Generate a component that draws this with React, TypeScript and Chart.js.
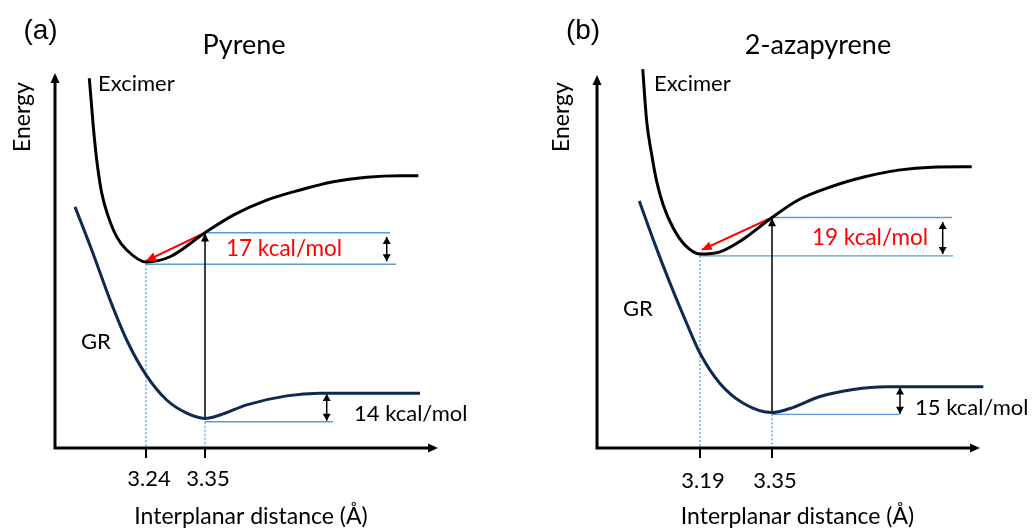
import React, { useEffect, useRef } from "react";
import { Chart, registerables } from "chart.js";

Chart.register(...registerables);

const FONT = "Lato, 'Open Sans', sans-serif";
const TAG_FONT = "'Liberation Sans', Arial, sans-serif";
const NAVY = "#0e2a4e";
const BLUE = "#5b9bd5";
const RED = "#ff0000";

// ---------------- Panel (a): Pyrene ----------------
// x: interplanar distance (Å), y: energy (arbitrary units, 0..100 on the axis)
const pyreneExcimerX = [3.1343, 3.1417, 3.1481, 3.1574, 3.1697, 3.1854, 3.204, 3.24, 3.2847, 3.35, 3.4028, 3.465, 3.5271, 3.5892, 3.6515, 3.7136, 3.7477];
const pyreneExcimerY = [98.6, 85.7, 76.8, 68.0, 61.7, 56.3, 52.8, 49.6, 51.0, 57.4, 62.1, 66.1, 68.8, 71.0, 72.2, 72.6, 72.6];
const pyreneGroundX = [3.1076, 3.1388, 3.1729, 3.204, 3.24, 3.2786, 3.3159, 3.35, 3.378, 3.4277, 3.5023, 3.5644, 3.7508];
const pyreneGroundY = [64.3, 52.8, 39.5, 28.8, 19.5, 12.8, 9.3, 7.9, 8.8, 11.5, 13.9, 14.6, 14.6];
const pyreneTicks = [3.24, 3.35];
const pyreneTickLabels = ["3.24", "3.35"];
// segments: [x1, y1, x2, y2] in data units
const pyreneLevelLines = [[3.35, 57.4, 3.6949, 57.4], [3.24, 49.0, 3.7061, 49.0], [3.35, 7.0, 3.5886, 7.0]];
const pyreneDropLines = [[3.24, 49.0, 3.24, 0], [3.35, 7.0, 3.35, 0]];
const pyreneExcitation = [3.35, 7.9, 3.35, 57.2];
const pyreneGaps = [[3.6888, 56.3, 3.6888, 49.8], [3.5769, 14.4, 3.5769, 7.3]];
const pyreneRelax = [3.35, 57.4, 3.24, 49.9];
const pyreneRange = [3.0703, 3.7844];

// ---------------- Panel (b): 2-azapyrene ----------------
const azaExcimerX = [3.0627, 3.0716, 3.0827, 3.0938, 3.1084, 3.1307, 3.1567, 3.19, 3.2344, 3.2862, 3.35, 3.4084, 3.4827, 3.5567, 3.6307, 3.7049, 3.7938];
const azaExcimerY = [101.6, 87.5, 78.6, 71.4, 65.1, 58.9, 54.4, 52.0, 52.6, 56.0, 61.8, 66.5, 70.1, 72.7, 74.5, 75.3, 75.4];
const azaGroundX = [3.0551, 3.0862, 3.1233, 3.1604, 3.19, 3.2344, 3.2862, 3.35, 3.39, 3.4567, 3.5307, 3.6049, 3.8196];
const azaGroundY = [66.2, 55.8, 44.2, 33.4, 25.4, 17.3, 12.0, 9.5, 10.6, 13.8, 15.7, 16.4, 16.4];
const azaTicks = [3.19, 3.35];
const azaTickLabels = ["3.19", "3.35"];
const azaLevelLines = [[3.35, 61.8, 3.75, 61.8], [3.19, 51.5, 3.7522, 51.5], [3.35, 9.0, 3.6344, 9.0]];
const azaDropLines = [[3.19, 51.5, 3.19, 0], [3.35, 9.0, 3.35, 0]];
const azaExcitation = [3.35, 9.5, 3.35, 61.6];
const azaGaps = [[3.7293, 60.6, 3.7293, 52.0], [3.6344, 16.2, 3.6344, 9.2]];
const azaRelax = [3.35, 61.8, 3.1938, 53.1];
const azaRange = [2.9611, 3.8122];

type TextSpec = { t: string; x: number; y: number; size: number; align: CanvasTextAlign; color?: string; rotate?: boolean; font?: string };

const pyreneTexts: TextSpec[] = [
  { t: "(a)", x: 40.5, y: 31, size: 28, align: "center", font: TAG_FONT },
  { t: "Pyrene", x: 244, y: 45, size: 27, align: "center" },
  { t: "Excimer", x: 98, y: 84, size: 22, align: "left" },
  { t: "GR", x: 81, y: 342, size: 22, align: "left" },
  { t: "17 kcal/mol", x: 226, y: 249, size: 22.5, align: "left", color: RED },
  { t: "14 kcal/mol", x: 354, y: 414, size: 22, align: "left" },
  { t: "Interplanar distance (Å)", x: 251, y: 517, size: 23, align: "center" },
  { t: "Energy", x: 23, y: 117, size: 23, align: "center", rotate: true },
];
const azaTexts: TextSpec[] = [
  { t: "(b)", x: 67, y: 31, size: 28, align: "center", font: TAG_FONT },
  { t: "2-azapyrene", x: 302, y: 45, size: 27, align: "center" },
  { t: "Excimer", x: 138, y: 84, size: 22, align: "left" },
  { t: "GR", x: 107, y: 309, size: 22, align: "left" },
  { t: "19 kcal/mol", x: 296, y: 238, size: 22.5, align: "left", color: RED },
  { t: "15 kcal/mol", x: 399, y: 408, size: 22, align: "left" },
  { t: "Interplanar distance (Å)", x: 281.5, y: 517, size: 23, align: "center" },
  { t: "Energy", x: 46, y: 117, size: 23, align: "center", rotate: true },
];

function drawHead(ctx: CanvasRenderingContext2D, x0: number, y0: number, x1: number, y1: number, len: number, half: number, color: string) {
  const ang = Math.atan2(y1 - y0, x1 - x0);
  const c = Math.cos(ang), s = Math.sin(ang);
  ctx.fillStyle = color;
  ctx.beginPath();
  ctx.moveTo(x1, y1);
  ctx.lineTo(x1 - len * c + half * s, y1 - len * s - half * c);
  ctx.lineTo(x1 - len * c - half * s, y1 - len * s + half * c);
  ctx.closePath();
  ctx.fill();
}

const diagramPlugin = {
  id: "diagram",
  afterDatasetsDraw(chart: any, _args: any, opts: any) {
    const { ctx, chartArea: a, scales } = chart;
    const xs = scales.x;
    ctx.save();
    // arrowheads on flagged datasets
    chart.data.datasets.forEach((ds: any, i: number) => {
      if (!ds.arrow) return;
      const pts = chart.getDatasetMeta(i).data;
      const p0 = pts[0], p1 = pts[pts.length - 1];
      const len = ds.headLen || 8, half = ds.headHalf || 4;
      drawHead(ctx, p0.x, p0.y, p1.x, p1.y, len, half, ds.borderColor);
      if (ds.arrow === "both") drawHead(ctx, p1.x, p1.y, p0.x, p0.y, len, half, ds.borderColor);
    });
    // axes
    ctx.strokeStyle = "#000";
    ctx.lineWidth = 3;
    ctx.lineCap = "butt";
    ctx.beginPath();
    ctx.moveTo(a.left, a.bottom + 1.5);
    ctx.lineTo(a.left, a.top + 6);
    ctx.moveTo(a.left - 1.5, a.bottom);
    ctx.lineTo(a.right - 6, a.bottom);
    ctx.stroke();
    drawHead(ctx, a.left, a.bottom, a.left, a.top, 10, 4.5, "#000");
    drawHead(ctx, a.left, a.bottom, a.right, a.bottom, 10, 4.5, "#000");
    // ticks
    ctx.lineWidth = 2;
    ctx.beginPath();
    opts.ticks.forEach((v: number) => {
      const px = Math.round(xs.getPixelForValue(v));
      ctx.moveTo(px, a.bottom);
      ctx.lineTo(px, a.bottom + 10);
    });
    ctx.stroke();
    ctx.fillStyle = "#000";
    ctx.textBaseline = "middle";
    ctx.textAlign = "center";
    ctx.font = `22px ${FONT}`;
    opts.ticks.forEach((v: number, i: number) => {
      ctx.fillText(opts.tickLabels[i], xs.getPixelForValue(v) + 3, opts.tickY);
    });
    // texts
    opts.texts.forEach((tx: TextSpec) => {
      ctx.save();
      ctx.font = `${tx.size}px ${tx.font || FONT}`;
      ctx.fillStyle = tx.color || "#000";
      ctx.textAlign = tx.align;
      ctx.textBaseline = "middle";
      ctx.translate(tx.x, tx.y);
      if (tx.rotate) ctx.rotate(-Math.PI / 2);
      ctx.fillText(tx.t, 0, 0);
      ctx.restore();
    });
    ctx.restore();
  },
};

const pts = (xs: number[], ys: number[]) => xs.map((x, i) => ({ x, y: ys[i] }));
const seg = (s: number[]) => [{ x: s[0], y: s[1] }, { x: s[2], y: s[3] }];

function buildConfig(p: any): any {
  const base = { pointRadius: 0, clip: false, fill: false, tension: 0 };
  return {
    type: "line",
    data: {
      datasets: [
        { ...base, data: pts(p.excX, p.excY), borderColor: "#000", borderWidth: 3, cubicInterpolationMode: "monotone" },
        { ...base, data: pts(p.grX, p.grY), borderColor: NAVY, borderWidth: 3, cubicInterpolationMode: "monotone" },
        { ...base, data: seg(p.relax), borderColor: RED, borderWidth: 2, arrow: "end", headLen: 10, headHalf: 4.5 },
        { ...base, data: seg(p.up), borderColor: "#000", borderWidth: 1.5, arrow: "end", headLen: 8, headHalf: 4 },
        ...p.gaps.map((g: number[]) => ({ ...base, data: seg(g), borderColor: "#000", borderWidth: 1.5, arrow: "both", headLen: 7, headHalf: 4 })),
        ...p.levels.map((l: number[]) => ({ ...base, data: seg(l), borderColor: BLUE, borderWidth: 1.3 })),
        ...p.drops.map((d: number[]) => ({ ...base, data: seg(d), borderColor: BLUE, borderWidth: 1.3, borderDash: [2, 2] })),
      ],
    },
    options: {
      animation: false,
      responsive: false,
      maintainAspectRatio: false,
      layout: { padding: p.padding },
      elements: { line: { capBezierPoints: false } },
      plugins: {
        legend: { display: false },
        tooltip: { enabled: false },
        title: { display: false },
        diagram: { ticks: p.ticks, tickLabels: p.tickLabels, tickY: p.tickY, texts: p.texts },
      },
      scales: {
        x: { type: "linear", min: p.range[0], max: p.range[1], display: false },
        y: { type: "linear", min: 0, max: 100, display: false },
      },
    },
    plugins: [diagramPlugin],
  };
}

const panelA = {
  excX: pyreneExcimerX, excY: pyreneExcimerY, grX: pyreneGroundX, grY: pyreneGroundY,
  ticks: pyreneTicks, tickLabels: pyreneTickLabels, levels: pyreneLevelLines, drops: pyreneDropLines,
  up: pyreneExcitation, gaps: pyreneGaps, relax: pyreneRelax, range: pyreneRange,
  padding: { left: 55, right: 78, top: 73, bottom: 81 }, tickY: 479, texts: pyreneTexts,
};
const panelB = {
  excX: azaExcimerX, excY: azaExcimerY, grX: azaGroundX, grY: azaGroundY,
  ticks: azaTicks, tickLabels: azaTickLabels, levels: azaLevelLines, drops: azaDropLines,
  up: azaExcitation, gaps: azaGaps, relax: azaRelax, range: azaRange,
  padding: { left: 81, right: 52, top: 75, bottom: 81 }, tickY: 481, texts: azaTexts,
};

function Panel({ spec, left }: { spec: any; left: number }) {
  const ref = useRef<HTMLCanvasElement>(null);
  useEffect(() => {
    const chart = new Chart(ref.current!, buildConfig(spec));
    return () => chart.destroy();
  }, [spec]);
  return (
    <canvas
      ref={ref}
      width={516}
      height={529}
      style={{ position: "absolute", left, top: 0, width: 516, height: 529 }}
    />
  );
}

export default function App() {
  return (
    <div style={{ position: "fixed", left: 0, top: 0, width: 1032, height: 529, background: "#fff", overflow: "hidden" }}>
      <Panel spec={panelA} left={0} />
      <Panel spec={panelB} left={516} />
    </div>
  );
}
